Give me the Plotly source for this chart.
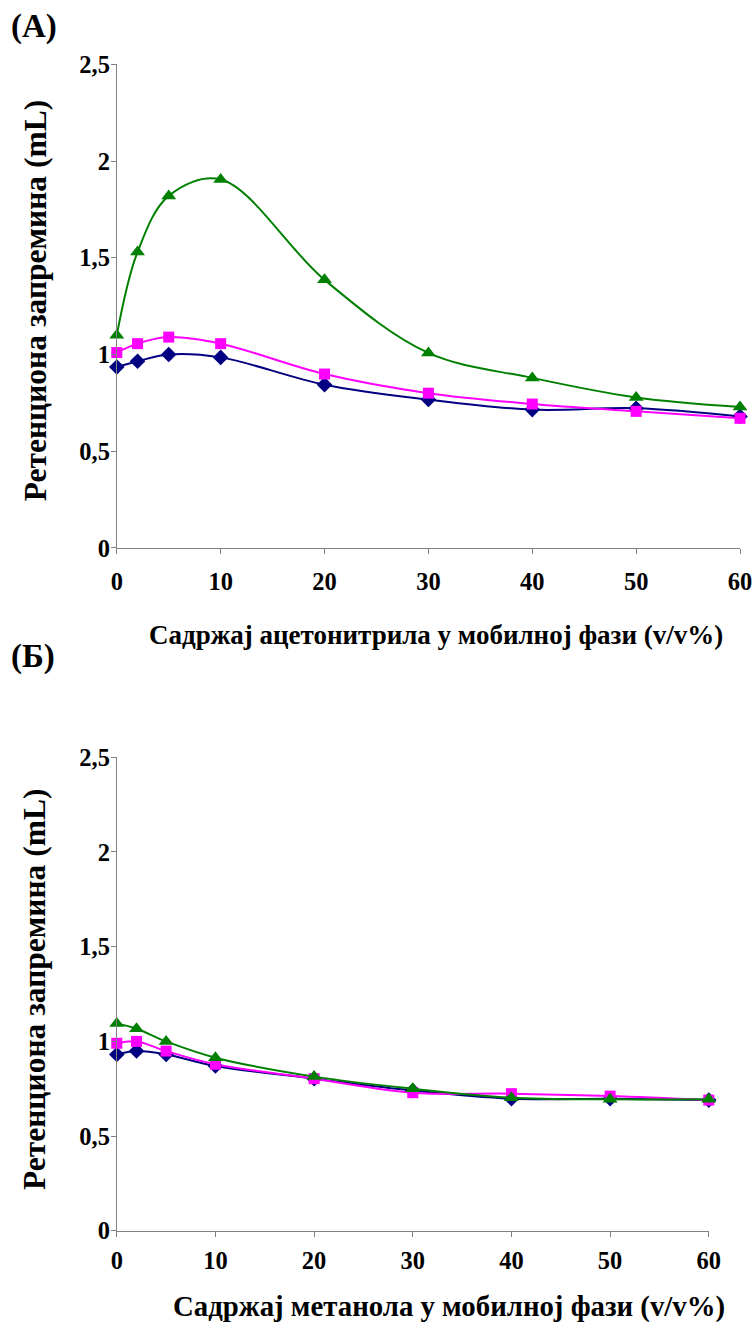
import plotly.graph_objects as go

# ---- data ----
x_acn = [0, 2, 5, 10, 20, 30, 40, 50, 60]
acn_blue = [0.935, 0.965, 1.00, 0.985, 0.844, 0.767, 0.715, 0.722, 0.68]
acn_pink = [1.01, 1.056, 1.09, 1.056, 0.899, 0.80, 0.744, 0.706, 0.67]
acn_green = [1.10, 1.53, 1.82, 1.905, 1.386, 1.008, 0.879, 0.778, 0.729]

x_meoh = [0, 2, 5, 10, 20, 30, 40, 50, 60]
meoh_blue = [0.931, 0.949, 0.931, 0.87, 0.803, 0.74, 0.697, 0.697, 0.69]
meoh_pink = [0.99, 1.0, 0.949, 0.879, 0.803, 0.729, 0.724, 0.711, 0.69]
meoh_green = [1.095, 1.067, 1.0, 0.914, 0.814, 0.75, 0.703, 0.694, 0.694]

y_tickvals = [0, 0.5, 1, 1.5, 2, 2.5]
y_ticktext = ["0", "0,5", "1", "1,5", "2", "2,5"]
x_tickvals = [0, 10, 20, 30, 40, 50, 60]

x_title_top = "Садржај ацетонитрила у мобилној фази (v/v%)"
x_title_bot = "Садржај метанола у мобилној фази (v/v%)"
y_title = "Ретенциона запремина (mL)"
panel_a = "(A)"
panel_b = "(Б)"

W, H = 753, 1331
FONT = "Liberation Serif"
NAVY = "#000080"
PINK = "#FF00FF"
GREEN = "#008000"

def px(xp):
    return xp / W

def py(yp):
    return 1 - yp / H

fig = go.Figure()

series = [
    (acn_blue, meoh_blue, NAVY, "diamond", 12),
    (acn_pink, meoh_pink, PINK, "square", 11),
    (acn_green, meoh_green, GREEN, "triangle-up", 13),
]
for top_vals, bot_vals, col, sym, sz in series:
    for xs, ys, xa, ya in [(x_acn, top_vals, "x", "y"), (x_meoh, bot_vals, "x2", "y2")]:
        fig.add_trace(go.Scatter(
            x=xs, y=ys, xaxis=xa, yaxis=ya, mode="lines+markers",
            line=dict(color=col, width=2, shape="spline", smoothing=1.0),
            marker=dict(color=col, symbol=sym, size=sz, line=dict(color=col, width=0)),
            cliponaxis=False, showlegend=False,
        ))

axis_common = dict(
    showgrid=False, zeroline=False, showline=True, linecolor="#808080", linewidth=1,
    ticks="outside", ticklen=5, tickcolor="#808080", tickwidth=1,
    tickfont=dict(family=FONT, size=24.5, color="black", weight="bold"),
)

top_y0, top_y1 = 546.0, 52.4
bot_y0, bot_y1 = 1243.0, 759.7
x_left = 113.5
top_right = 752
bot_right = 720

fig.update_layout(
    width=W, height=H, margin=dict(l=0, r=0, t=0, b=0),
    paper_bgcolor="white", plot_bgcolor="white",
    xaxis=dict(domain=[px(x_left), px(top_right)], range=[0, 60], anchor="y",
               tickvals=x_tickvals, ticklabelstandoff=7, **axis_common),
    yaxis=dict(domain=[py(top_y0), py(top_y1)], range=[0, 2.5], anchor="x",
               tickvals=y_tickvals, ticktext=y_ticktext, ticklabelstandoff=-4, **axis_common),
    xaxis2=dict(domain=[px(x_left), px(bot_right)], range=[0, 60], anchor="y2",
                tickvals=x_tickvals, ticklabelstandoff=3, **axis_common),
    yaxis2=dict(domain=[py(bot_y0), py(bot_y1)], range=[0, 2.5], anchor="x2",
                tickvals=y_tickvals, ticktext=y_ticktext, ticklabelstandoff=-4, **axis_common),
)

xt_font_top = dict(family=FONT, size=27, color="black", weight="bold")
xt_font_bot = dict(family=FONT, size=28.8, color="black", weight="bold")
yt_font = dict(family=FONT, size=31.5, color="black", weight="bold")
anns = [
    dict(text=x_title_top, x=px(441), y=py(635), font=xt_font_top),
    dict(text=x_title_bot, x=px(454), y=py(1320), font=xt_font_bot),
    dict(text=y_title, x=px(30), y=py(293), textangle=-90, font=yt_font),
    dict(text=y_title, x=px(30), y=py(996), textangle=-90, font=yt_font),
]
for a in anns:
    fig.add_annotation(xref="paper", yref="paper", xanchor="center", yanchor="middle",
                       showarrow=False, **a)
for t, yy in [(panel_a, 14), (panel_b, 657)]:
    fig.add_annotation(xref="paper", yref="paper", xanchor="left", yanchor="middle",
                       x=px(3), y=py(yy), text=t, showarrow=False,
                       font=dict(family=FONT, size=33, color="black", weight="bold"))

fig.write_html(
    "out.html",
    config={"displayModeBar": False},
    post_script="document.body.style.margin='0';document.documentElement.style.overflow='hidden';document.body.style.overflow='hidden';",
)
